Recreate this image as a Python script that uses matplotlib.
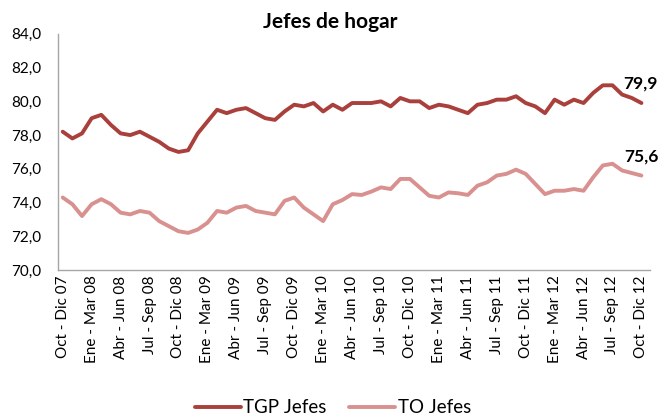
import matplotlib
matplotlib.use("Agg")
import matplotlib.pyplot as plt
from matplotlib.ticker import FuncFormatter

plt.rcParams['font.family'] = ['Lato', 'DejaVu Sans']

periods = [
    "Oct - Dic 07", "Nov - Ene 08", "Dic - Feb 08", "Ene - Mar 08", "Feb - Abr 08", "Mar - May 08",
    "Abr - Jun 08", "May - Jul 08", "Jun - Ago 08", "Jul - Sep 08", "Ago - Oct 08", "Sep - Nov 08",
    "Oct - Dic 08", "Nov - Ene 09", "Dic - Feb 09", "Ene - Mar 09", "Feb - Abr 09", "Mar - May 09",
    "Abr - Jun 09", "May - Jul 09", "Jun - Ago 09", "Jul - Sep 09", "Ago - Oct 09", "Sep - Nov 09",
    "Oct - Dic 09", "Nov - Ene 10", "Dic - Feb 10", "Ene - Mar 10", "Feb - Abr 10", "Mar - May 10",
    "Abr - Jun 10", "May - Jul 10", "Jun - Ago 10", "Jul - Sep 10", "Ago - Oct 10", "Sep - Nov 10",
    "Oct - Dic 10", "Nov - Ene 11", "Dic - Feb 11", "Ene - Mar 11", "Feb - Abr 11", "Mar - May 11",
    "Abr - Jun 11", "May - Jul 11", "Jun - Ago 11", "Jul - Sep 11", "Ago - Oct 11", "Sep - Nov 11",
    "Oct - Dic 11", "Nov - Ene 12", "Dic - Feb 12", "Ene - Mar 12", "Feb - Abr 12", "Mar - May 12",
    "Abr - Jun 12", "May - Jul 12", "Jun - Ago 12", "Jul - Sep 12", "Ago - Oct 12", "Sep - Nov 12",
    "Oct - Dic 12",
]

tgp_jefes = [
    78.2, 77.8, 78.1, 79.0, 79.2, 78.6, 78.1, 78.0, 78.2, 77.9, 77.6, 77.2,
    77.0, 77.1, 78.1, 78.8, 79.5, 79.3, 79.5, 79.6, 79.3, 79.0, 78.9, 79.4,
    79.8, 79.7, 79.9, 79.4, 79.8, 79.5, 79.9, 79.9, 79.9, 80.0, 79.7, 80.2,
    80.0, 80.0, 79.6, 79.8, 79.7, 79.5, 79.3, 79.8, 79.9, 80.1, 80.1, 80.3,
    79.9, 79.7, 79.3, 80.1, 79.8, 80.1, 79.9, 80.5, 80.95, 80.95, 80.4, 80.2,
    79.9,
]

to_jefes = [
    74.3, 73.9, 73.2, 73.9, 74.2, 73.9, 73.4, 73.3, 73.5, 73.4, 72.9, 72.6,
    72.3, 72.2, 72.4, 72.8, 73.5, 73.4, 73.7, 73.8, 73.5, 73.4, 73.3, 74.1,
    74.3, 73.7, 73.3, 72.9, 73.9, 74.15, 74.5, 74.45, 74.65, 74.9, 74.8, 75.4,
    75.4, 74.9, 74.4, 74.3, 74.6, 74.55, 74.45, 75.0, 75.2, 75.6, 75.7, 75.95,
    75.7, 75.1, 74.5, 74.7, 74.7, 74.8, 74.7, 75.5, 76.2, 76.3, 75.9, 75.75,
    75.6,
]

end_labels = ["79,9", "75,6"]
title = "Jefes de hogar"

c_tgp = "#A9403C"
c_to = "#D8918F"

fig = plt.figure(figsize=(6.58, 4.18), dpi=100)
ax = fig.add_axes([0.088, 0.354, 0.9, 0.565])

x = list(range(len(periods)))
ax.plot(x, tgp_jefes, color=c_tgp, lw=2.8, label="TGP Jefes", solid_capstyle='round')
ax.plot(x, to_jefes, color=c_to, lw=2.8, label="TO Jefes", solid_capstyle='round')

ax.set_xlim(-0.5, len(periods) - 0.5 + 0.4)
ax.set_ylim(70, 84)
ax.set_yticks([70, 72, 74, 76, 78, 80, 82, 84])
ax.yaxis.set_major_formatter(FuncFormatter(lambda v, p: f"{v:.1f}".replace(".", ",")))
ax.set_xticks(x[::3])
ax.set_xticklabels(periods[::3], rotation=90, fontsize=11)
ax.tick_params(axis='y', labelsize=11, length=0, pad=12)
ax.tick_params(axis='x', length=0, pad=4)

for s in ["top", "right"]:
    ax.spines[s].set_visible(False)
for s in ["left", "bottom"]:
    ax.spines[s].set_color("#A6A6A6")
    ax.spines[s].set_linewidth(1.0)

ax.annotate(end_labels[0], (x[-1], tgp_jefes[-1]), xytext=(-1, 8), textcoords="offset points",
            ha="center", va="bottom", fontsize=12.5, fontweight="bold")
ax.annotate(end_labels[1], (x[-1], to_jefes[-1]), xytext=(0, 8), textcoords="offset points",
            ha="center", va="bottom", fontsize=12.5, fontweight="bold")

fig.text(0.502, 0.947, title, ha="center", va="center", fontsize=15, fontweight="bold")

fig.legend(loc="center", bbox_to_anchor=(0.506, 0.024), ncol=2, frameon=False,
           fontsize=13.5, handlelength=2.45, handletextpad=0.15, columnspacing=1.2,
           borderpad=0, borderaxespad=0)

fig.savefig("out.png", dpi=100)
